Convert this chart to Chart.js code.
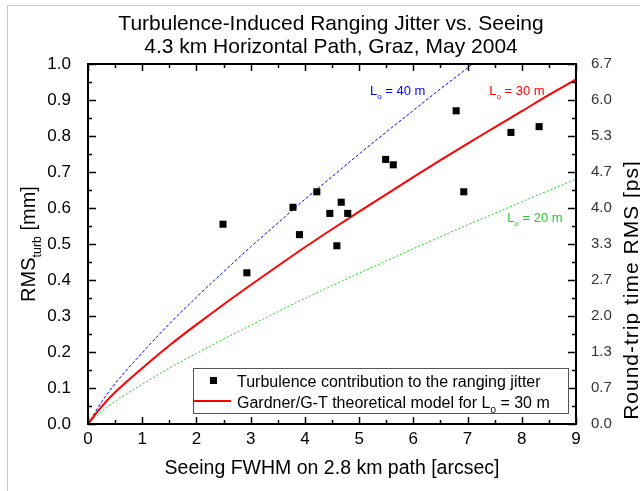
<!DOCTYPE html>
<html>
<head>
<meta charset="utf-8">
<script src="https://cdn.jsdelivr.net/npm/chart.js@4.4.0/dist/chart.umd.min.js"></script>
<style>
  html, body { margin: 0; padding: 0; background: #fff; }
  #wrap { position: relative; width: 640px; height: 491px; }
</style>
</head>
<body>
<div id="wrap"><canvas id="chart" width="640" height="491"></canvas></div>
<script>
// measured points: seeing FWHM [arcsec] vs RMS_turb [mm]
const seeing  = [2.49, 2.93, 3.78, 3.90, 4.22, 4.46, 4.59, 4.67, 4.79, 5.49, 5.63, 6.79, 6.93, 7.80, 8.32]
const rmsTurb = [0.555, 0.420, 0.602, 0.526, 0.645, 0.585, 0.495, 0.616, 0.585, 0.735, 0.720, 0.870, 0.645, 0.810, 0.826]

// model curves
const modelX  = [0, 0.25, 0.5, 1, 1.5, 2, 2.5, 3, 3.5, 4, 4.5, 5, 5.5, 6, 6.5, 7, 7.5, 8, 8.5, 9]
const model30 = [0, 0.048, 0.088, 0.155, 0.218, 0.276, 0.332, 0.386, 0.439, 0.491, 0.541, 0.590, 0.638, 0.686, 0.733, 0.779, 0.824, 0.869, 0.914, 0.957]
const model20 = [0, 0.034, 0.063, 0.110, 0.155, 0.196, 0.236, 0.274, 0.312, 0.349, 0.384, 0.419, 0.453, 0.487, 0.520, 0.553, 0.585, 0.617, 0.649, 0.680]
const model40X = [0, 0.25, 0.5, 1, 1.5, 2, 2.5, 3, 3.5, 4, 4.5, 5, 5.5, 6, 6.5, 7, 7.09]
const model40  = [0, 0.061, 0.112, 0.198, 0.278, 0.352, 0.423, 0.492, 0.558, 0.624, 0.687, 0.750, 0.811, 0.871, 0.931, 0.989, 1.0]

const xTickLabels = ['0', '1', '2', '3', '4', '5', '6', '7', '8', '9']
const yTickLabels = ['0.0', '0.1', '0.2', '0.3', '0.4', '0.5', '0.6', '0.7', '0.8', '0.9', '1.0']
const rightTickLabels = ['0.0', '0.7', '1.3', '2.0', '2.7', '3.3', '4.0', '4.7', '5.3', '6.0', '6.7']

const titleLines = ['Turbulence-Induced Ranging Jitter vs. Seeing', '4.3 km Horizontal Path, Graz, May 2004']
const legendLabels = ['Turbulence contribution to the ranging jitter', 'Gardner/G-T theoretical model for L0 = 30 m']

const FONT = '"Liberation Sans", Arial, sans-serif'
const toXY = (xs, ys) => xs.map((v, i) => ({ x: v, y: ys[i] }))

// text with subscript parts: [[text, isSub], ...]
function partsWidth(ctx, parts, size) {
  let w = 0
  parts.forEach(([t, sub]) => {
    ctx.font = (sub ? size * 0.62 : size) + 'px ' + FONT
    w += ctx.measureText(t).width
  })
  return w
}
function drawParts(ctx, x, y, parts, size, color) {
  ctx.fillStyle = color
  ctx.textAlign = 'left'
  ctx.textBaseline = 'alphabetic'
  parts.forEach(([t, sub]) => {
    ctx.font = (sub ? size * 0.62 : size) + 'px ' + FONT
    ctx.fillText(t, x, y + (sub ? size * 0.3 : 0))
    x += ctx.measureText(t).width
  })
}
function drawCentered(ctx, cx, y, parts, size, color) {
  drawParts(ctx, cx - partsWidth(ctx, parts, size) / 2, y, parts, size, color)
}

const decorations = {
  id: 'decorations',
  beforeDraw(chart) {
    const ctx = chart.ctx
    ctx.save()
    ctx.fillStyle = '#fff'
    ctx.fillRect(0, 0, chart.width, chart.height)
    // window frame
    ctx.strokeStyle = '#c8c8c8'
    ctx.lineWidth = 1
    ctx.beginPath()
    ctx.moveTo(7.5, chart.height)
    ctx.lineTo(7.5, 5.5)
    ctx.lineTo(chart.width, 5.5)
    ctx.stroke()
    ctx.restore()
  },
  afterDraw(chart) {
    const ctx = chart.ctx
    const a = chart.chartArea
    const xs = chart.scales.x
    const ys = chart.scales.y
    const cx = (a.left + a.right) / 2
    ctx.save()

    // title, centred over the plot
    drawCentered(ctx, cx - 1, 30, [[titleLines[0], false]], 21, '#000')
    drawCentered(ctx, cx - 1, 53, [[titleLines[1], false]], 21, '#000')

    // inward ticks, major + minor
    ctx.strokeStyle = '#000'
    ctx.lineWidth = 1.5
    ctx.beginPath()
    for (let v = 0; v <= 9.001; v += 0.5) {
      const px = Math.round(xs.getPixelForValue(v)) + 0.5
      const len = Math.abs(v - Math.round(v)) < 1e-6 ? 7 : 4
      ctx.moveTo(px, a.bottom); ctx.lineTo(px, a.bottom - len)
      ctx.moveTo(px, a.top); ctx.lineTo(px, a.top + len)
    }
    for (let i = 0; i <= 20; i++) {
      const py = Math.round(ys.getPixelForValue(i * 0.05)) + 0.5
      const len = i % 2 === 0 ? 8 : 4
      ctx.moveTo(a.left, py); ctx.lineTo(a.left + len, py)
      ctx.moveTo(a.right, py); ctx.lineTo(a.right - len, py)
    }
    ctx.stroke()

    // plot box
    ctx.lineWidth = 2
    ctx.strokeRect(a.left, a.top, a.right - a.left, a.bottom - a.top)

    // curve labels
    const lab = (x, y, txt, color) => drawParts(ctx, xs.getPixelForValue(x), ys.getPixelForValue(y),
      [['L', false], ['o', true], [txt, false]], 13, color)
    lab(5.2, 0.914, ' = 40 m', '#0000ff')
    lab(7.4, 0.914, ' = 30 m', '#ff0000')
    lab(7.73, 0.561, ' = 20 m', '#20d020')

    // legend box
    ctx.fillStyle = '#fff'
    ctx.fillRect(193, 368, 375, 45)
    ctx.strokeStyle = '#555'
    ctx.lineWidth = 1
    ctx.strokeRect(193.5, 368.5, 375, 45)
    ctx.fillStyle = '#000'
    ctx.fillRect(210, 377, 7, 7)
    ctx.strokeStyle = '#ff0000'
    ctx.lineWidth = 2
    ctx.beginPath(); ctx.moveTo(194, 401); ctx.lineTo(231, 401); ctx.stroke()
    drawParts(ctx, 237, 387, [[legendLabels[0], false]], 16, '#000')
    drawParts(ctx, 237, 408, [['Gardner/G-T theoretical model for L', false], ['0', true], [' = 30 m', false]], 16, '#000')

    // axis titles
    drawCentered(ctx, cx, 474, [['Seeing FWHM on 2.8 km path [arcsec]', false]], 19.5, '#000')

    const leftParts = [['RMS', false], ['turb', true], [' [mm]', false]]
    ctx.save()
    ctx.translate(35, (a.top + a.bottom) / 2)
    ctx.rotate(-Math.PI / 2)
    drawCentered(ctx, 0, 0, leftParts, 20, '#000')
    ctx.restore()

    ctx.save()
    ctx.translate(638, 290)
    ctx.rotate(-Math.PI / 2)
    ctx.letterSpacing = '1px'
    drawCentered(ctx, 0, 0, [['Round-trip time RMS [ps]', false]], 21, '#000')
    ctx.restore()

    ctx.restore()
  }
}

new Chart(document.getElementById('chart'), {
  type: 'scatter',
  data: {
    datasets: [
      {
        label: legendLabels[0],
        data: toXY(seeing, rmsTurb),
        pointStyle: 'rect',
        pointRadius: 5,
        backgroundColor: '#000',
        borderColor: '#000',
        borderWidth: 0
      },
      {
        label: legendLabels[1],
        data: toXY(modelX, model30),
        showLine: true,
        cubicInterpolationMode: 'monotone',
        borderColor: '#ff0000',
        borderWidth: 2,
        pointRadius: 0
      },
      {
        label: 'L0 = 40 m',
        data: toXY(model40X, model40),
        showLine: true,
        cubicInterpolationMode: 'monotone',
        borderColor: '#0000ff',
        borderWidth: 1,
        borderDash: [3, 2],
        pointRadius: 0
      },
      {
        label: 'L0 = 20 m',
        data: toXY(modelX, model20),
        showLine: true,
        cubicInterpolationMode: 'monotone',
        borderColor: '#20d020',
        borderWidth: 1,
        borderDash: [2, 2],
        pointRadius: 0
      }
    ]
  },
  options: {
    responsive: false,
    animation: false,
    devicePixelRatio: 1,
    layout: { padding: { top: 64 } },
    plugins: {
      legend: { display: false },
      tooltip: { enabled: false },
      title: { display: false }
    },
    scales: {
      x: {
        type: 'linear',
        min: 0,
        max: 9,
        afterFit: s => { s.height = 67 },
        grid: { display: false },
        border: { display: false },
        ticks: {
          stepSize: 1,
          padding: -3,
          color: '#000',
          font: { family: FONT, size: 17 },
          maxRotation: 0,
          callback: (v, i) => xTickLabels[i]
        }
      },
      y: {
        type: 'linear',
        position: 'left',
        min: 0,
        max: 1,
        afterFit: s => { s.width = 88 },
        grid: { display: false },
        border: { display: false },
        ticks: {
          stepSize: 0.1,
          padding: 9,
          color: '#000',
          font: { family: FONT, size: 17 },
          callback: (v, i) => yTickLabels[i]
        }
      },
      y2: {
        type: 'linear',
        position: 'right',
        min: 0,
        max: 1,
        afterFit: s => { s.width = 64 },
        grid: { display: false },
        border: { display: false },
        ticks: {
          stepSize: 0.1,
          padding: 7,
          color: '#333',
          font: { family: FONT, size: 15 },
          callback: (v, i) => rightTickLabels[i]
        }
      }
    }
  },
  plugins: [decorations]
})
</script>
</body>
</html>
